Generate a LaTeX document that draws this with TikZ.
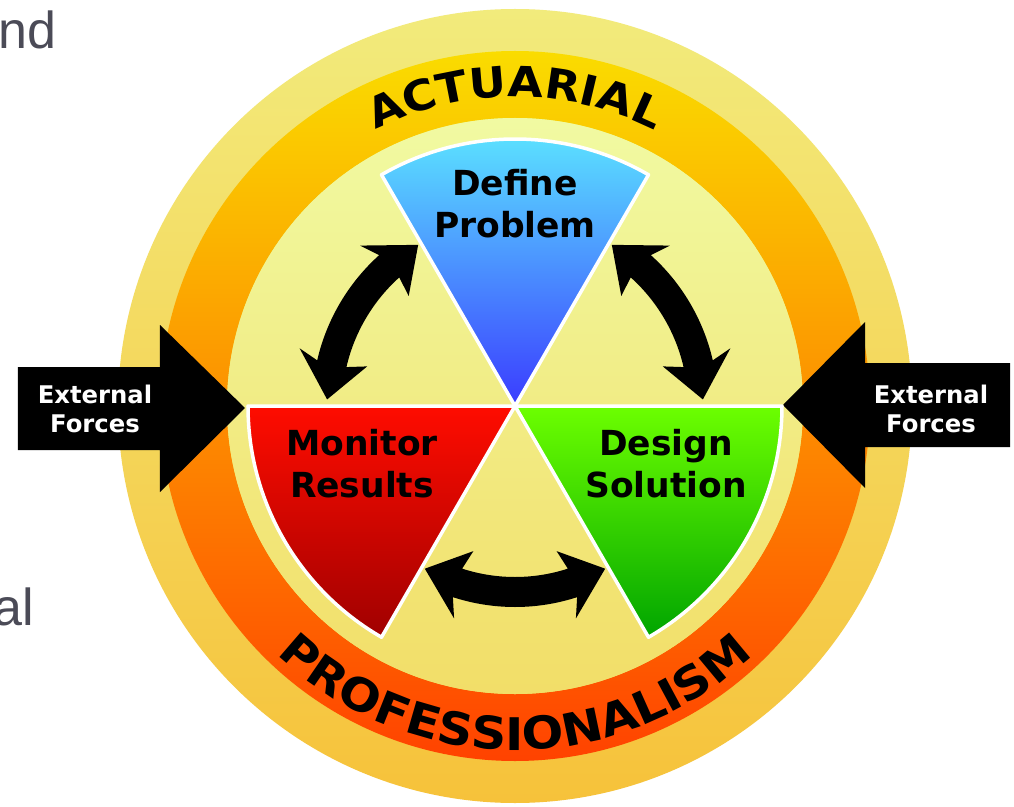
\documentclass[tikz,border=0pt]{standalone}
\usepackage{fontspec}
\setmainfont{DejaVu Sans}
\newfontfamily\arcfam[FakeStretch=1.09]{DejaVu Sans}
\newfontfamily\slidefont{Liberation Sans}
\usetikzlibrary{decorations.text}
\definecolor{outerTop}{HTML}{F2EB7C}
\definecolor{outerMid}{HTML}{F5C84C}
\definecolor{outerBot}{HTML}{F6C23A}
\definecolor{bandTop}{HTML}{FADC00}
\definecolor{bandMid}{HTML}{FBB000}
\definecolor{bandBot}{HTML}{FF4200}
\definecolor{innerTop}{HTML}{F1FAA2}
\definecolor{innerMid}{HTML}{E9F874}
\definecolor{innerBot}{HTML}{F2DE68}
\definecolor{blueTop}{HTML}{5CE6FF}
\definecolor{blueBot}{HTML}{3A3CFF}
\definecolor{redTop}{HTML}{FF0C00}
\definecolor{redBot}{HTML}{A00000}
\definecolor{greenTop}{HTML}{6CFF00}
\definecolor{greenBot}{HTML}{00A500}
\definecolor{slidegray}{HTML}{4B4B57}
\newcommand\dblarc[3]{%
  \fill[black] (#1:#3) -- ({#1+13}:{#3+35}) -- ({#1+11}:{#3+15})
    arc[start angle={#1+11}, end angle={#2-11}, radius={#3+15}]
    -- ({#2-13}:{#3+35}) -- (#2:#3) -- ({#2-13}:{#3-35}) -- ({#2-11}:{#3-15})
    arc[start angle={#2-11}, end angle={#1+11}, radius={#3-15}]
    -- ({#1+13}:{#3-35}) -- cycle;}
\begin{document}
\begin{tikzpicture}[x=1pt,y=1pt,
  sectorlabel/.style={font=\bfseries\fontsize{34.5}{42}\selectfont, align=center, text=black, inner sep=0pt},
  extlabel/.style={font=\bfseries\fontsize{24.3}{29}\selectfont, align=center, text=white, inner sep=0pt},
  fragment/.style={anchor=base west, inner sep=0pt, text=slidegray, font=\slidefont\fontsize{52}{52}\selectfont},
  sector/.style={draw=white, line width=3.5pt, line join=round},
  forcearrow/.style={fill=black}]
\useasboundingbox (-515,-400) rectangle (499,406);
\fill[white] (-515,-400) rectangle (499,406);
% fragments of slide text
\node[fragment] (frag1) at (-517,357) {nd};
\node[fragment] (frag2) at (-522,-219) {al};
% rings
\shade[top color=outerTop, middle color=outerMid, bottom color=outerBot] (0,0) circle[radius=397];
\shade[top color=bandTop, middle color=bandMid, bottom color=bandBot] (0,0) circle[radius=355];
\fill[innerMid] (0,0) circle[radius=288];
\shade[top color=innerTop, middle color=innerMid, bottom color=innerBot] (0,0) circle[radius=288];
% ring texts
\path[decorate, decoration={text along path, text align=center,
  text={|\arcfam\bfseries\fontsize{42}{42}\selectfont|ACTUARIAL}}]
  (150:309) arc[start angle=150, end angle=30, radius=309];
\path[decorate, decoration={text along path, text align=center,
  text={|\arcfam\bfseries\fontsize{45}{45}\selectfont|PROFESSIONALISM}}]
  (200:344) arc[start angle=200, end angle=340, radius=344];
% external force arrows
\fill[forcearrow] (-497,39) -- (-355,39) -- (-355,81) -- (-270,-2) -- (-355,-86) -- (-355,-44) -- (-497,-44) -- cycle;
\fill[forcearrow] (495,43) -- (350,43) -- (350,84) -- (268,1) -- (350,-82) -- (350,-41) -- (495,-41) -- cycle;
\node[extlabel] (extL) at (-420,-2.5) {External\\Forces};
\node[extlabel] (extR) at (416,-2.5) {External\\Forces};
% sectors
\shade[sector, top color=blueTop, bottom color=blueBot] (0,0) -- (60:267) arc[start angle=60, end angle=120, radius=267] -- cycle;
\shade[sector, top color=redTop, bottom color=redBot] (0,0) -- (180:267) arc[start angle=180, end angle=240, radius=267] -- cycle;
\shade[sector, top color=greenTop, bottom color=greenBot] (0,0) -- (300:267) arc[start angle=300, end angle=360, radius=267] -- cycle;
% cycle arrows
\dblarc{121}{178}{188}
\dblarc{2}{59}{188}
\dblarc{241}{299}{186}
% labels
\node[sectorlabel] (define) at (0,202) {Define\\Problem};
\node[sectorlabel] (monitor) at (-153,-57.5) {Monitor\\Results};
\node[sectorlabel] (design) at (151,-58) {Design\\Solution};
\end{tikzpicture}
\end{document}
